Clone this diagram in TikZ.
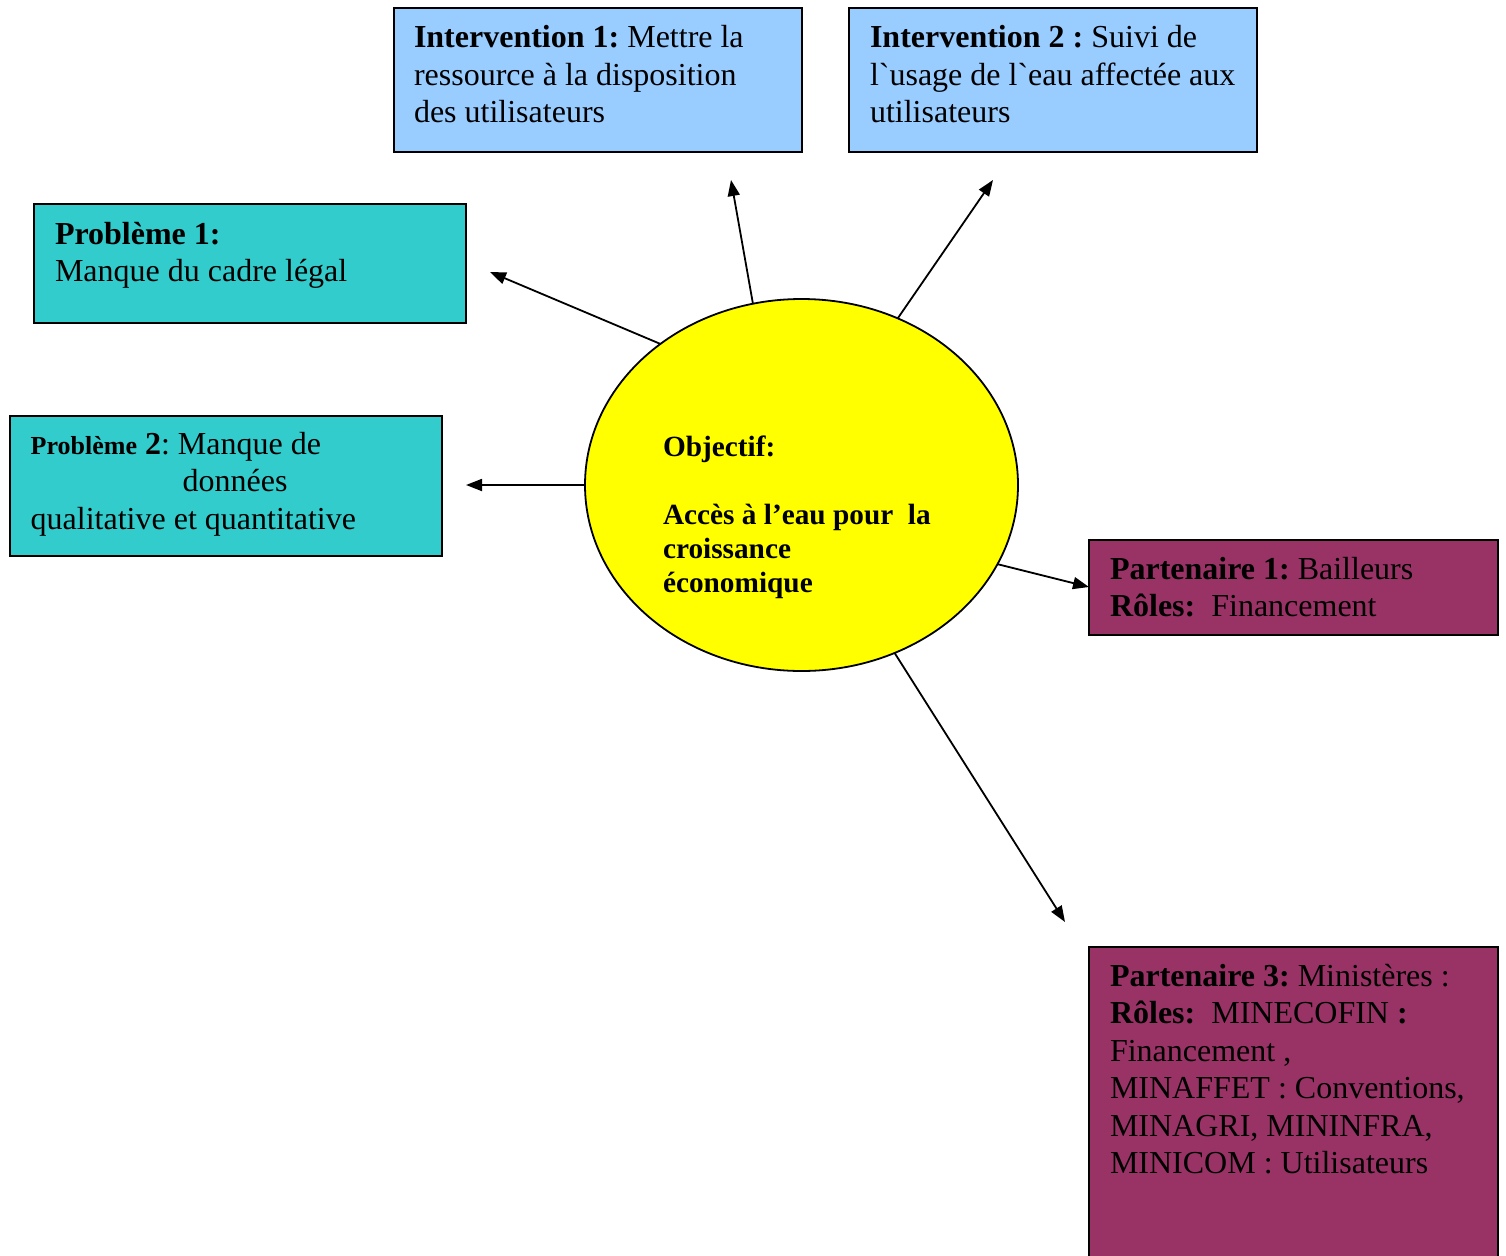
\documentclass[tikz,border=0pt]{standalone}
\usepackage{fontspec}
\setmainfont{Liberation Serif}
\newfontfamily\gravefont{Liberation Serif}
\usetikzlibrary{arrows.meta,shapes.geometric}
\definecolor{intblue}{HTML}{99CCFF}
\definecolor{probteal}{HTML}{33CCCC}
\definecolor{partred}{HTML}{993366}
\definecolor{objyellow}{HTML}{FFFF00}
\def\mystrut{\rule{0pt}{26pt}}
\def\objstrut{\rule{0pt}{23pt}}
\def\gravechar{{\gravefont\char"60}}
\frenchspacing
\begin{document}
\frenchspacing
\begin{tikzpicture}[x=1pt,y=-1pt,
  box/.style={draw=black, line width=1.8pt, rectangle, anchor=north west, inner sep=0pt, outer sep=0pt},
  txt/.style={anchor=north west, inner sep=0pt, outer sep=0pt, align=left, font=\fontsize{32}{37.5}\selectfont},
  objtxt/.style={anchor=north west, inner sep=0pt, outer sep=0pt, align=left, font=\bfseries\fontsize{29.3}{34}\selectfont},
  arr/.style={line width=1.8pt, -{Triangle[length=16pt,width=12pt]}},
]
\useasboundingbox (0,0) rectangle (1506,1255);
\clip (0,0) rectangle (1506,1255);
\fill[white] (0,0) rectangle (1506,1255);

% boxes
\node[box, fill=intblue, minimum width=408pt, minimum height=144pt] (int1) at (394,8) {};
\node[box, fill=intblue, minimum width=408pt, minimum height=144pt] (int2) at (849,8) {};
\node[box, fill=probteal, minimum width=432pt, minimum height=119pt] (prob1) at (34,204) {};
\node[box, fill=probteal, minimum width=432pt, minimum height=140pt] (prob2) at (10,416) {};
\node[box, fill=partred, minimum width=409pt, minimum height=95pt] (part1) at (1089,540) {};
\node[box, fill=partred, minimum width=409pt, minimum height=330pt] (part3) at (1089,947) {};
\node[ellipse, draw=black, line width=1.8pt, fill=objyellow, inner sep=0pt, outer sep=0pt,
      minimum width=433pt, minimum height=372pt] (obj) at (801.5,485) {};

% texts
\node[txt] (int1t) at (414,21.5) {\mystrut\textbf{Intervention 1:} Mettre la\\ressource à la disposition\\des utilisateurs};
\node[txt] (int2t) at (870,21.5) {\mystrut\textbf{Intervention 2 :} Suivi de\\l\gravechar usage de l\gravechar eau affectée aux\\utilisateurs};
\node[txt] (prob1t) at (55,218) {\mystrut\textbf{Problème 1:}\\Manque du cadre légal};
\node[txt] (prob2t) at (30.7,428) {\mystrut{\bfseries\fontsize{26}{37.5}\selectfont Problème} \textbf{2}: Manque de\\\hspace*{152pt}données\\qualitative et quantitative};
\node[txt] (part1t) at (1110,553.3) {\mystrut\textbf{Partenaire 1:} Bailleurs\\\textbf{Rôles:}\ \ Financement};
\node[txt] (part3t) at (1110,960) {\mystrut\textbf{Partenaire 3:} Ministères :\\\textbf{Rôles:}\ \ MINECOFIN \textbf{:}\\Financement ,\\MINAFFET : Conventions,\\MINAGRI, MININFRA,\\MINICOM : Utilisateurs};
\node[objtxt] (objt) at (663,433.5) {\objstrut Objectif:\\[34pt]Accès à l’eau pour \ la\\croissance\\économique};

% arrow ends
\coordinate (e1) at (490,272);
\coordinate (e2) at (731,180);
\coordinate (e3) at (993,180);
\coordinate (e4) at (466,485);
\coordinate (e5) at (1089,587);
\coordinate (e6) at (1065,922);

\draw[arr] (obj.135) -- (e1);
\draw[arr] (obj.105) -- (e2);
\draw[arr] (obj.60) -- (e3);
\draw[arr] (obj.180) -- (e4);
\draw[arr] (obj.338) -- (e5);
\draw[arr] (obj.299) -- (e6);
\end{tikzpicture}
\end{document}
